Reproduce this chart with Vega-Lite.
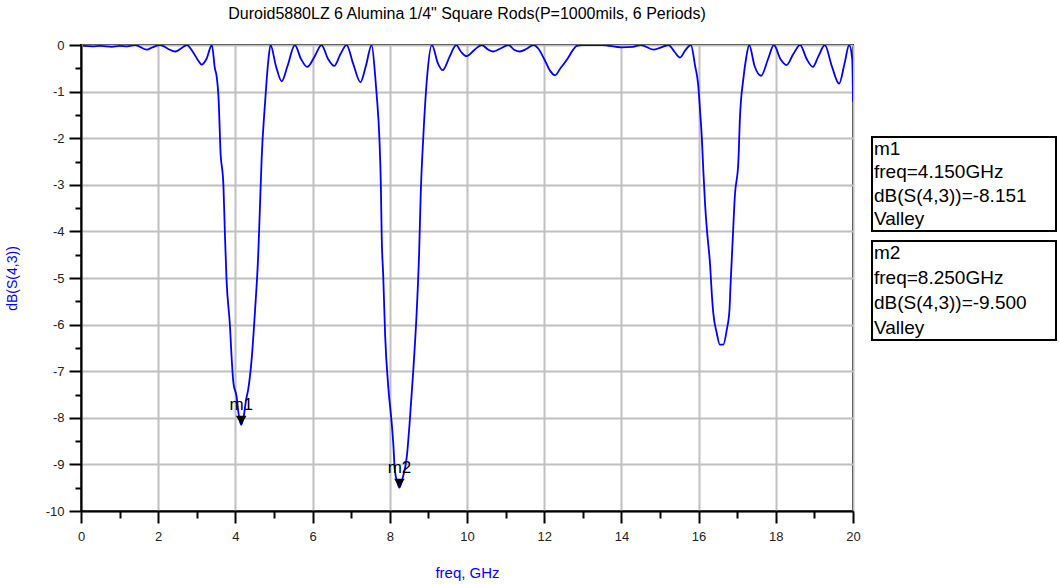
{
  "$schema": "https://vega.github.io/schema/vega-lite/v6.json",
  "background": "white",
  "padding": {"left": 4, "top": 5, "right": 0, "bottom": 0},
  "config": {
    "font": "Liberation Sans",
    "view": {"stroke": null},
    "axis": {
      "domainColor": "black",
      "domainWidth": 2,
      "tickColor": "black",
      "tickWidth": 2,
      "gridColor": "#c0c0c0",
      "gridWidth": 2,
      "labelColor": "#222222",
      "labelFontSize": 13,
      "labelFont": "Liberation Sans",
      "titleFont": "Liberation Sans",
      "titleFontWeight": "normal",
      "titleColor": "#0000ff"
    }
  },
  "datasets": {
    "sweep": [
      {"freq": 0.05, "dB": -0.02}, {"freq": 0.3, "dB": -0.03}, {"freq": 0.5, "dB": -0.02},
      {"freq": 0.8, "dB": -0.04}, {"freq": 1.0, "dB": -0.02}, {"freq": 1.2, "dB": -0.03},
      {"freq": 1.4, "dB": 0.0}, {"freq": 1.7, "dB": -0.1}, {"freq": 1.85, "dB": -0.05},
      {"freq": 2.05, "dB": 0.0}, {"freq": 2.25, "dB": -0.08}, {"freq": 2.44, "dB": -0.14},
      {"freq": 2.6, "dB": -0.07}, {"freq": 2.74, "dB": 0.0}, {"freq": 2.9, "dB": -0.15},
      {"freq": 3.05, "dB": -0.35}, {"freq": 3.13, "dB": -0.42}, {"freq": 3.25, "dB": -0.3},
      {"freq": 3.39, "dB": 0.0}, {"freq": 3.47, "dB": -0.51}, {"freq": 3.51, "dB": -0.65},
      {"freq": 3.57, "dB": -1.25}, {"freq": 3.61, "dB": -2.22}, {"freq": 3.69, "dB": -3.02},
      {"freq": 3.73, "dB": -4.1}, {"freq": 3.77, "dB": -5.03}, {"freq": 3.86, "dB": -6.04},
      {"freq": 3.9, "dB": -6.68}, {"freq": 3.95, "dB": -7.26}, {"freq": 4.03, "dB": -7.54},
      {"freq": 4.08, "dB": -7.9}, {"freq": 4.15, "dB": -8.151}, {"freq": 4.22, "dB": -7.95},
      {"freq": 4.28, "dB": -7.6}, {"freq": 4.33, "dB": -7.4}, {"freq": 4.42, "dB": -6.75},
      {"freq": 4.51, "dB": -5.68}, {"freq": 4.59, "dB": -4.53}, {"freq": 4.64, "dB": -3.38},
      {"freq": 4.68, "dB": -2.44}, {"freq": 4.77, "dB": -1.22}, {"freq": 4.85, "dB": -0.36},
      {"freq": 4.91, "dB": 0.0}, {"freq": 5.05, "dB": -0.45}, {"freq": 5.2, "dB": -0.78},
      {"freq": 5.35, "dB": -0.45}, {"freq": 5.54, "dB": 0.0}, {"freq": 5.7, "dB": -0.3},
      {"freq": 5.86, "dB": -0.47}, {"freq": 6.05, "dB": -0.25}, {"freq": 6.23, "dB": 0.0},
      {"freq": 6.4, "dB": -0.3}, {"freq": 6.56, "dB": -0.45}, {"freq": 6.72, "dB": -0.2},
      {"freq": 6.88, "dB": 0.0}, {"freq": 7.05, "dB": -0.4}, {"freq": 7.24, "dB": -0.8},
      {"freq": 7.38, "dB": -0.45}, {"freq": 7.53, "dB": 0.0}, {"freq": 7.62, "dB": -0.65},
      {"freq": 7.66, "dB": -1.07}, {"freq": 7.73, "dB": -2.0}, {"freq": 7.77, "dB": -3.08},
      {"freq": 7.79, "dB": -4.1}, {"freq": 7.83, "dB": -4.96}, {"freq": 7.88, "dB": -6.25},
      {"freq": 7.96, "dB": -7.33}, {"freq": 8.05, "dB": -8.12}, {"freq": 8.09, "dB": -8.55},
      {"freq": 8.13, "dB": -9.12}, {"freq": 8.2, "dB": -9.4}, {"freq": 8.25, "dB": -9.5},
      {"freq": 8.33, "dB": -9.3}, {"freq": 8.44, "dB": -8.84}, {"freq": 8.52, "dB": -8.04},
      {"freq": 8.61, "dB": -6.96}, {"freq": 8.7, "dB": -5.67}, {"freq": 8.76, "dB": -4.45},
      {"freq": 8.8, "dB": -3.23}, {"freq": 8.87, "dB": -1.94}, {"freq": 8.97, "dB": -0.65},
      {"freq": 9.09, "dB": 0.0}, {"freq": 9.25, "dB": -0.4}, {"freq": 9.37, "dB": -0.54},
      {"freq": 9.55, "dB": -0.25}, {"freq": 9.72, "dB": 0.0}, {"freq": 9.85, "dB": -0.15},
      {"freq": 9.99, "dB": -0.24}, {"freq": 10.2, "dB": -0.1}, {"freq": 10.38, "dB": 0.0},
      {"freq": 10.55, "dB": -0.1}, {"freq": 10.68, "dB": -0.14}, {"freq": 10.88, "dB": -0.07},
      {"freq": 11.07, "dB": 0.0}, {"freq": 11.22, "dB": -0.1}, {"freq": 11.37, "dB": -0.14},
      {"freq": 11.55, "dB": -0.08}, {"freq": 11.72, "dB": 0.0}, {"freq": 11.85, "dB": -0.08},
      {"freq": 12.0, "dB": -0.3}, {"freq": 12.15, "dB": -0.55}, {"freq": 12.28, "dB": -0.65},
      {"freq": 12.42, "dB": -0.5}, {"freq": 12.6, "dB": -0.3}, {"freq": 12.75, "dB": -0.1},
      {"freq": 12.84, "dB": -0.02}, {"freq": 13.0, "dB": 0.0}, {"freq": 13.5, "dB": 0.0},
      {"freq": 14.0, "dB": -0.05}, {"freq": 14.3, "dB": -0.04}, {"freq": 14.5, "dB": 0.0},
      {"freq": 14.83, "dB": -0.1}, {"freq": 15.0, "dB": -0.06}, {"freq": 15.22, "dB": 0.0},
      {"freq": 15.38, "dB": -0.15}, {"freq": 15.52, "dB": -0.27}, {"freq": 15.65, "dB": -0.12},
      {"freq": 15.8, "dB": 0.0}, {"freq": 15.91, "dB": -0.45}, {"freq": 15.99, "dB": -0.86},
      {"freq": 16.04, "dB": -1.44}, {"freq": 16.08, "dB": -1.94}, {"freq": 16.12, "dB": -2.65},
      {"freq": 16.17, "dB": -3.45}, {"freq": 16.23, "dB": -4.1}, {"freq": 16.3, "dB": -4.74},
      {"freq": 16.34, "dB": -5.32}, {"freq": 16.38, "dB": -5.75}, {"freq": 16.47, "dB": -6.18},
      {"freq": 16.55, "dB": -6.43}, {"freq": 16.64, "dB": -6.43}, {"freq": 16.73, "dB": -6.11},
      {"freq": 16.8, "dB": -5.68}, {"freq": 16.83, "dB": -5.1}, {"freq": 16.88, "dB": -4.24},
      {"freq": 16.94, "dB": -3.23}, {"freq": 17.03, "dB": -2.51}, {"freq": 17.07, "dB": -1.58},
      {"freq": 17.16, "dB": -0.72}, {"freq": 17.23, "dB": -0.29}, {"freq": 17.31, "dB": 0.0},
      {"freq": 17.45, "dB": -0.45}, {"freq": 17.62, "dB": -0.66}, {"freq": 17.8, "dB": -0.3},
      {"freq": 17.95, "dB": 0.0}, {"freq": 18.12, "dB": -0.3}, {"freq": 18.28, "dB": -0.43},
      {"freq": 18.45, "dB": -0.2}, {"freq": 18.63, "dB": 0.0}, {"freq": 18.8, "dB": -0.3},
      {"freq": 18.96, "dB": -0.47}, {"freq": 19.1, "dB": -0.25}, {"freq": 19.27, "dB": 0.0},
      {"freq": 19.45, "dB": -0.45}, {"freq": 19.64, "dB": -0.83}, {"freq": 19.78, "dB": -0.4},
      {"freq": 19.9, "dB": 0.0}, {"freq": 19.98, "dB": -0.3}, {"freq": 20.0, "dB": -1.22}
    ],
    "markers": [
      {"name": "m1", "freq": 4.15, "dB": -8.151},
      {"name": "m2", "freq": 8.25, "dB": -9.5}
    ],
    "readout": [
      {"marker": "m1", "line": 1, "text": "m1"},
      {"marker": "m1", "line": 2, "text": "freq=4.150GHz"},
      {"marker": "m1", "line": 3, "text": "dB(S(4,3))=-8.151"},
      {"marker": "m1", "line": 4, "text": "Valley"},
      {"marker": "m2", "line": 1, "text": "m2"},
      {"marker": "m2", "line": 2, "text": "freq=8.250GHz"},
      {"marker": "m2", "line": 3, "text": "dB(S(4,3))=-9.500"},
      {"marker": "m2", "line": 4, "text": "Valley"}
    ]
  },
  "spacing": 19,
  "bounds": "flush",
  "hconcat": [
    {
      "width": 772,
      "height": 466,
      "view": {"stroke": "black", "strokeWidth": 2},
      "title": {
        "text": "Duroid5880LZ  6 Alumina 1/4\" Square Rods(P=1000mils, 6 Periods)",
        "fontSize": 16,
        "fontWeight": "normal",
        "color": "black",
        "font": "Liberation Sans",
        "anchor": "middle",
        "offset": 17
      },
      "resolve": {"axis": {"x": "independent", "y": "independent"}},
      "layer": [
        {
          "data": {"name": "sweep"},
          "mark": {"type": "line", "color": "#0000ff", "strokeWidth": 1.8, "clip": true, "interpolate": "monotone"},
          "encoding": {
            "x": {
              "field": "freq",
              "type": "quantitative",
              "title": "freq, GHz",
              "scale": {"domain": [0, 20], "nice": false, "zero": false},
              "axis": {
                "orient": "bottom",
                "values": [0,2,4,6,8,10,12,14,16,18,20],
                "tickSize": 12,
                "labelPadding": 7,
                "labelFlush": false,
                "labelOverlap": false,
                "titleFontSize": 15,
                "titlePadding": 22
              }
            },
            "y": {
              "field": "dB",
              "type": "quantitative",
              "title": "dB(S(4,3))",
              "scale": {"domain": [-10, 0], "nice": false, "zero": false},
              "axis": {
                "orient": "left",
                "values": [-10,-9,-8,-7,-6,-5,-4,-3,-2,-1,0],
                "labelExpr": "'' + datum.value",
                "tickSize": 12,
                "labelPadding": 5,
                "labelFlush": false,
                "labelOverlap": false,
                "titleFontSize": 14,
                "titlePadding": 26
              }
            }
          }
        },
        {
          "data": {"name": "markers"},
          "mark": {"type": "point", "shape": "triangle-down", "filled": true, "color": "black", "opacity": 1, "size": 110, "yOffset": -4.5},
          "encoding": {
            "x": {
              "field": "freq",
              "type": "quantitative",
              "axis": {
                "orient": "bottom",
                "values": [1,3,5,7,9,11,13,15,17,19],
                "labels": false,
                "domain": false,
                "grid": false,
                "title": null,
                "tickSize": 7
              }
            },
            "y": {
              "field": "dB",
              "type": "quantitative",
              "axis": {
                "orient": "left",
                "values": [-9.5,-8.5,-7.5,-6.5,-5.5,-4.5,-3.5,-2.5,-1.5,-0.5],
                "labels": false,
                "domain": false,
                "grid": false,
                "title": null,
                "tickSize": 6
              }
            }
          }
        },
        {
          "data": {"name": "markers"},
          "mark": {"type": "text", "baseline": "bottom", "align": "center", "yOffset": -11, "fontSize": 17, "color": "black", "font": "Liberation Sans"},
          "encoding": {
            "x": {"field": "freq", "type": "quantitative", "axis": null},
            "y": {"field": "dB", "type": "quantitative", "axis": null},
            "text": {"field": "name"}
          }
        }
      ]
    },
    {
      "spacing": 8,
      "vconcat": [
        {
          "width": 184,
          "height": 83,
          "data": {"values": []},
          "mark": "text",
          "encoding": {}
        },
        {
          "width": 184,
          "height": 94,
          "view": {"stroke": "black", "strokeWidth": 2},
          "data": {"name": "readout"},
          "transform": [{"filter": "datum.marker === 'm1'"}],
          "mark": {"type": "text", "align": "left", "baseline": "middle", "dx": 2, "fontSize": 19, "color": "black", "font": "Liberation Sans"},
          "encoding": {
            "x": {"value": 0},
            "y": {"field": "line", "type": "ordinal", "axis": null},
            "text": {"field": "text"}
          }
        },
        {
          "width": 184,
          "height": 99,
          "view": {"stroke": "black", "strokeWidth": 2},
          "data": {"name": "readout"},
          "transform": [{"filter": "datum.marker === 'm2'"}],
          "mark": {"type": "text", "align": "left", "baseline": "middle", "dx": 2, "fontSize": 19, "color": "black", "font": "Liberation Sans"},
          "encoding": {
            "x": {"value": 0},
            "y": {"field": "line", "type": "ordinal", "axis": null},
            "text": {"field": "text"}
          }
        }
      ]
    }
  ]
}
